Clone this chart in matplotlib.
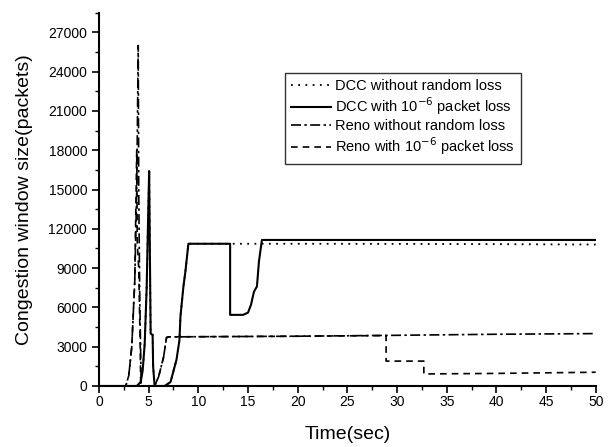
##congestion window plot: DCC vs Reno, with and without random loss
import matplotlib
matplotlib.use('Agg')
import matplotlib.pyplot as plt
from matplotlib.ticker import MultipleLocator

plt.rcParams['font.family'] = ['Liberation Sans', 'DejaVu Sans']

##data (time in sec, window in packets)
t_dcc_nl = [0, 3.8, 4.2, 4.4, 4.6, 4.8, 4.95, 5.05, 5.15, 5.2, 5.4, 5.45, 5.6,
            6.6, 7.2, 7.8, 8.1, 8.2, 8.5, 8.7, 9.0, 20, 30, 40, 50]
w_dcc_nl = [0, 0, 300, 1200, 3200, 7500, 13000, 16400, 8000, 4000, 3900, 1500, 0,
            0, 300, 2000, 3500, 5300, 7600, 8750, 10860, 10860, 10850, 10830, 10800]

t_dcc_l = [0, 3.8, 4.2, 4.4, 4.6, 4.8, 4.95, 5.05, 5.15, 5.2, 5.4, 5.45, 5.6,
           6.6, 7.2, 7.8, 8.1, 8.2, 8.5, 8.7, 9.0, 13.2, 13.2, 14.5, 15.0, 15.3,
           15.6, 15.9, 16.1, 16.4, 30, 50]
w_dcc_l = [0, 0, 300, 1200, 3200, 7500, 13000, 16400, 8000, 4000, 3900, 1500, 0,
           0, 300, 2000, 3500, 5300, 7600, 8750, 10860, 10860, 5430, 5430, 5600, 6200,
           7200, 7600, 9500, 11150, 11150, 11150]

t_reno_nl = [0, 2.7, 3.0, 3.3, 3.6, 3.8, 3.95, 4.0, 4.1, 4.25, 5.6, 6.0, 6.5, 6.8,
             7.0, 20, 30, 40, 50]
w_reno_nl = [0, 0, 800, 3000, 8000, 15000, 26000, 15000, 7000, 0, 0, 700, 2200, 3700,
             3750, 3800, 3870, 3950, 4000]

t_reno_l = [0, 2.7, 3.0, 3.3, 3.6, 3.8, 3.85, 4.0, 4.15, 4.2, 5.6, 6.0, 6.5, 6.8,
            7.0, 20, 28.9, 28.9, 32.7, 32.7, 40, 50]
w_reno_l = [0, 0, 800, 3000, 8000, 18000, 11000, 9000, 3000, 0, 0, 700, 2200, 3700,
            3750, 3800, 3850, 1900, 1900, 920, 960, 1050]

labels = ['DCC without random loss', 'DCC with 10$^{-6}$ packet loss',
          'Reno without random loss', 'Reno with 10$^{-6}$ packet loss']

fig = plt.figure(figsize=(6.11, 4.47), dpi=100)
ax = fig.add_axes([0.162, 0.1365, 0.813, 0.835])

ax.plot(t_dcc_nl, w_dcc_nl, color='black', lw=1.3, linestyle=(0, (1, 3)), label=labels[0])
ax.plot(t_dcc_l, w_dcc_l, color='black', lw=1.5, linestyle='-', label=labels[1])
ax.plot(t_reno_nl, w_reno_nl, color='black', lw=1.2, linestyle=(0, (6, 2, 1.5, 2)), label=labels[2])
ax.plot(t_reno_l, w_reno_l, color='black', lw=1.2, linestyle=(0, (4, 3)), label=labels[3])

ax.set_xlim(0, 50)
ax.set_ylim(0, 28500)
ax.xaxis.set_major_locator(MultipleLocator(5))
ax.xaxis.set_minor_locator(MultipleLocator(2.5))
ax.yaxis.set_major_locator(MultipleLocator(3000))
ax.yaxis.set_minor_locator(MultipleLocator(1500))
ax.tick_params(which='major', direction='out', length=5, width=1.2, labelsize=10)
ax.tick_params(which='minor', direction='out', length=3, width=1.0)
ax.tick_params(axis='x', which='major', pad=1.5)

ax.spines['top'].set_visible(False)
ax.spines['right'].set_visible(False)
ax.spines['left'].set_linewidth(1.5)
ax.spines['bottom'].set_linewidth(1.5)

ax.set_xlabel('Time(sec)', fontsize=14, labelpad=12)
ax.set_ylabel('Congestion window size(packets)', fontsize=14, labelpad=11)

leg = ax.legend(loc='upper left', bbox_to_anchor=(0.374, 0.839), bbox_transform=ax.transAxes,
                borderaxespad=0, fontsize=10.5, frameon=True, fancybox=False,
                handlelength=2.7, handletextpad=0.3, borderpad=0.45, labelspacing=0.15)
leg.get_frame().set_edgecolor('black')
leg.get_frame().set_linewidth(1.0)

fig.savefig('out.png', dpi=100)
